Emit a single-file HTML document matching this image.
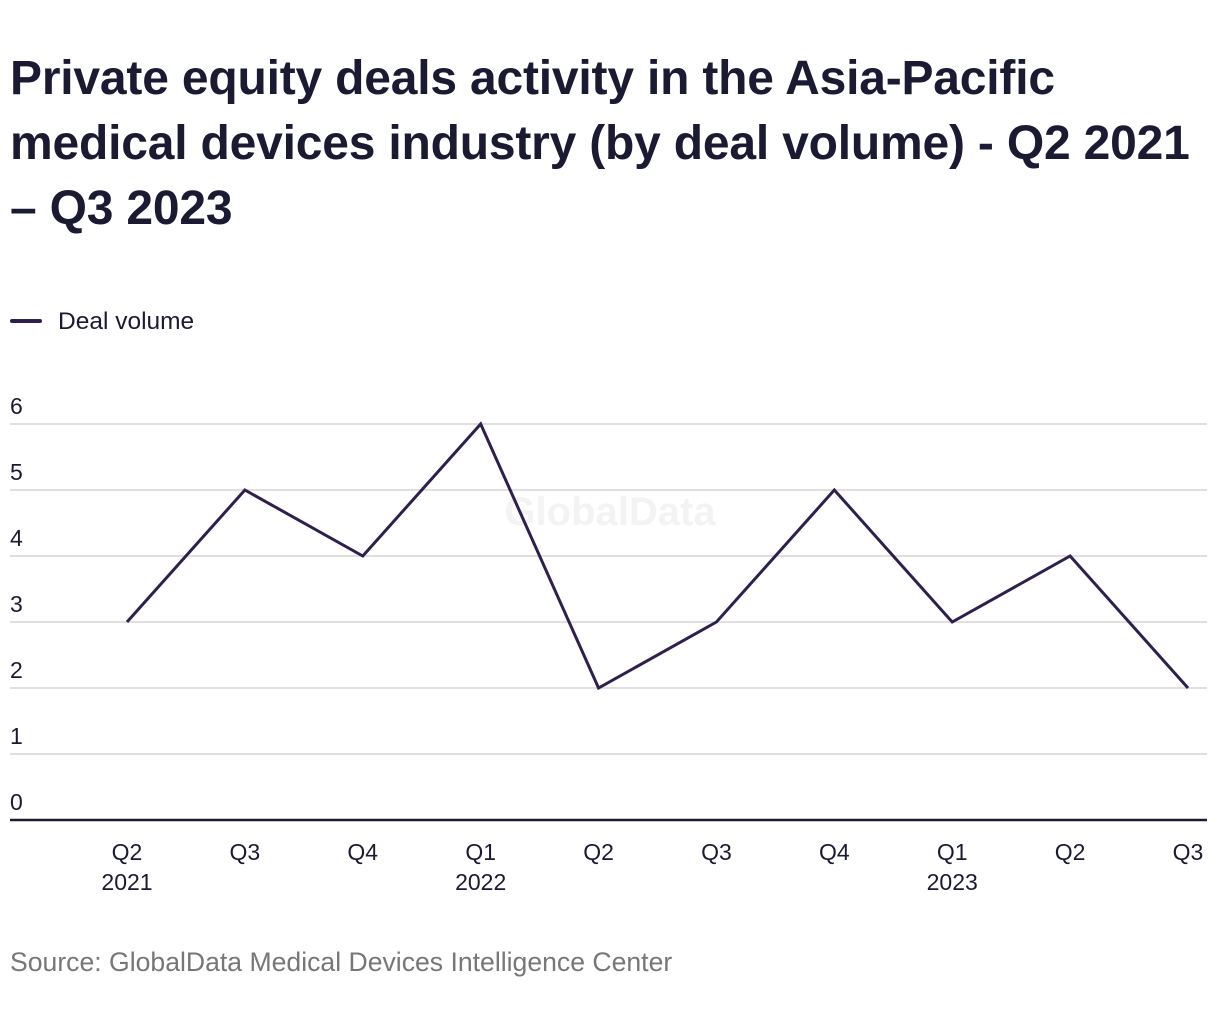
<!DOCTYPE html>
<html><head><meta charset="utf-8"><style>
body{margin:0;background:#fff;width:1220px;height:1020px;overflow:hidden;font-family:"Liberation Sans",sans-serif;}
h1{position:absolute;left:10px;top:46px;margin:0;font-size:48px;line-height:65px;font-weight:bold;color:#1b1a33;white-space:nowrap;letter-spacing:-0.2px}
#legend{position:absolute;left:10px;top:308px;font-size:24.5px;color:#1b1a33}
#legend span.sw{display:inline-block;width:32px;height:4px;background:#2e1f4f;border-radius:2px;vertical-align:middle;margin-right:16px;margin-top:-4px}
#source{position:absolute;left:10px;top:947px;font-size:26.6px;color:#777}
svg{position:absolute;left:0;top:0}
</style></head><body>
<h1>Private equity deals activity in the Asia-Pacific<br>medical devices industry (by deal volume) - Q2 2021<br>– Q3 2023</h1>
<div id="legend"><span class="sw"></span>Deal volume</div>
<svg id="chart" width="1220" height="1020"></svg>
<div id="source">Source: GlobalData Medical Devices Intelligence Center</div>
<script>
const quarters=["Q2","Q3","Q4","Q1","Q2","Q3","Q4","Q1","Q2","Q3"];
const years=["2021","","","2022","","","","2023","",""];
const values=[3,5,4,6,2,3,5,3,4,2];
const yTicks=[0,1,2,3,4,5,6];
const NS="http://www.w3.org/2000/svg";
const svg=document.getElementById('chart');
const y=v=>820-66*v;
const x=i=>127+i*(1188-127)/(quarters.length-1);
function mk(t,a){const e=document.createElementNS(NS,t);for(const k in a)e.setAttribute(k,a[k]);svg.appendChild(e);return e;}
const wm=mk('text',{x:610,y:525,'text-anchor':'middle','font-size':40,'font-weight':'bold',fill:'#f3f3f3','font-family':'Liberation Sans, sans-serif'});
wm.textContent='GlobalData';


yTicks.forEach(v=>{
  if(v>0){const g=mk('line',{x1:10,x2:1207,y1:y(v),y2:y(v),stroke:'#d6d6d6','stroke-width':1.5});
  
  }
  const t=mk('text',{x:10,y:y(v)-10,'font-size':23,fill:'#1b1a33','font-family':'Liberation Sans, sans-serif'});
  t.textContent=v;
  
  
});
const ax=mk('line',{x1:10,x2:1207,y1:820,y2:820,stroke:'#1b1a33','stroke-width':2.5});


quarters.forEach((q,i)=>{
  const t=mk('text',{x:x(i),y:860,'text-anchor':'middle','font-size':23,fill:'#1b1a33','font-family':'Liberation Sans, sans-serif'});
  t.textContent=q;
  
  
  if(years[i]){const t2=mk('text',{x:x(i),y:890,'text-anchor':'middle','font-size':23,fill:'#1b1a33','font-family':'Liberation Sans, sans-serif'});
  t2.textContent=years[i];
  
  }
});
const p=mk('polyline',{points:values.map((v,i)=>x(i)+','+y(v)).join(' '),fill:'none',stroke:'#2e1f4f','stroke-width':3,'stroke-linejoin':'miter'});


</script>
</body></html>
